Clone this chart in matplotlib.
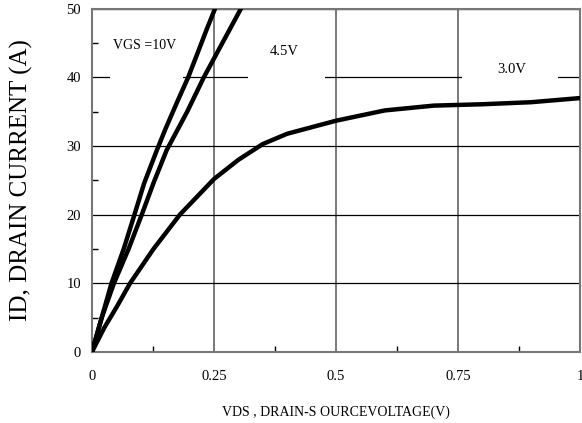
import matplotlib
matplotlib.use("Agg")
import matplotlib.pyplot as plt

# Data (VDS in V, ID in A)
vds_10v = [0, 0.02, 0.04, 0.065, 0.087, 0.107, 0.133, 0.15, 0.175, 0.197, 0.215, 0.235, 0.252, 0.26]
id_10v = [0, 5, 10, 15, 20, 24.6, 29.4, 32.4, 36.5, 40, 43.3, 47, 50, 52]

vds_45v = [0, 0.02, 0.045, 0.075, 0.102, 0.126, 0.153, 0.195, 0.229, 0.267, 0.305, 0.315]
id_45v = [0, 5, 10, 15, 20, 24.6, 29.4, 35, 40, 45, 50, 52]

vds_30v = [0, 0.025, 0.051, 0.078, 0.126, 0.18, 0.25, 0.30, 0.35, 0.40, 0.50, 0.60, 0.70, 0.80, 0.90, 1.0]
id_30v = [0, 3.5, 6.6, 10, 15, 20, 25.2, 28, 30.3, 31.8, 33.7, 35.2, 35.9, 36.1, 36.4, 37.0]

x_ticks = [0, 0.25, 0.5, 0.75, 1]
x_tick_labels = ["0", "0.25", "0.5", "0.75", "1"]
y_ticks = [0, 10, 20, 30, 40, 50]
curve_labels = ["VGS =10V", "4.5V", "3.0V"]

plt.rcParams['font.family'] = ['Liberation Serif', 'DejaVu Serif']

fig = plt.figure(figsize=(5.82, 4.23), dpi=100)
ax = fig.add_axes([0.158, 0.168, 0.8386, 0.811])

ax.set_xlim(0, 1)
ax.set_ylim(0, 50)
ax.set_xticks(x_ticks)
ax.set_xticklabels(x_tick_labels)
ax.set_yticks(y_ticks)
ax.set_xticks([0.125, 0.375, 0.625, 0.875], minor=True)
ax.set_yticks([5, 15, 25, 35, 45], minor=True)
ax.tick_params(axis='both', which='major', length=0, labelsize=10.5)
ax.tick_params(axis='x', which='major', pad=13)
ax.tick_params(axis='y', which='major', pad=8)
ax.tick_params(axis='both', which='minor', direction='in', length=4, width=1, color='black')

ax.set_axisbelow(True)
ax.yaxis.grid(True, color='black', linewidth=0.9)
ax.xaxis.grid(True, color='#555555', linewidth=1.1)

for s in ax.spines.values():
    s.set_color('#777777')
    s.set_linewidth(1.5)

# white masks breaking the 40 A gridline behind labels
for x0, x1 in [(0.037, 0.186), (0.320, 0.477), (0.758, 0.955)]:
    ax.axhspan(39.3, 40.7, xmin=x0, xmax=x1, color='white', zorder=1, linewidth=0)

lw = 3.2
ax.plot(vds_10v, id_10v, color='black', linewidth=lw, zorder=3, solid_capstyle='round', solid_joinstyle='round')
ax.plot(vds_45v, id_45v, color='black', linewidth=lw, zorder=3, solid_capstyle='round', solid_joinstyle='round')
ax.plot(vds_30v, id_30v, color='black', linewidth=lw, zorder=3, solid_capstyle='round', solid_joinstyle='round')

ax.text(0.043, 44.6, curve_labels[0], fontsize=10, va='center', ha='left')
ax.text(0.365, 43.8, curve_labels[1], fontsize=10.5, va='center', ha='left')
ax.text(0.83, 41.1, curve_labels[2], fontsize=10.5, va='center', ha='left')

ax.set_ylabel("ID, DRAIN CURRENT (A)", fontsize=18, labelpad=24)
ax.set_xlabel("VDS , DRAIN-S OURCEVOLTAGE(V)", fontsize=10, labelpad=16)

fig.savefig("out.png", dpi=100)
